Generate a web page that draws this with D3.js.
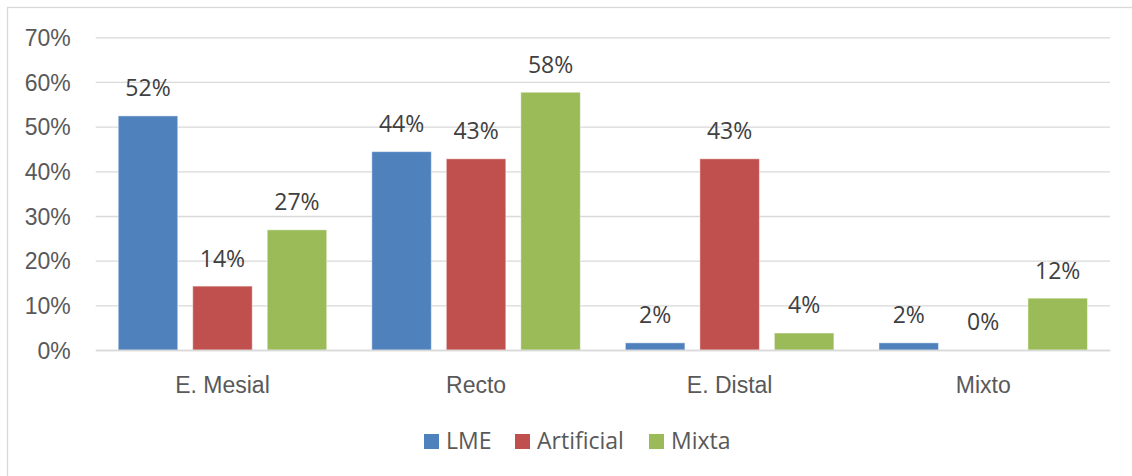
<!DOCTYPE html>
<html>
<head>
<meta charset="utf-8">
<script src="https://cdn.jsdelivr.net/npm/d3@7"></script>
<style>
  html, body { margin: 0; padding: 0; background: #fff; }
  svg { display: block; font-family: "Open Sans", "Noto Sans", sans-serif; }
</style>
</head>
<body>
<svg id="chart" width="1132" height="476"></svg>
<script>
// Categories, series and values (fractions)
const categories = ["E. Mesial", "Recto", "E. Distal", "Mixto"];
const seriesNames = ["LME", "Artificial", "Mixta"];
const seriesColors = ["#4F81BD", "#C0504D", "#9BBB59"];
const lmeValues = [0.524, 0.444, 0.016, 0.016];
const artificialValues = [0.143, 0.428, 0.428, 0.0];
const mixtaValues = [0.269, 0.577, 0.038, 0.116];
const yTicks = [0, 0.1, 0.2, 0.3, 0.4, 0.5, 0.6, 0.7];

const seriesValues = [lmeValues, artificialValues, mixtaValues];

const svg = d3.select("#chart");
const W = 1132, H = 476;
const plot = { left: 95.7, right: 1110, top: 37.3, bottom: 350 };

// Chart border (extends past the right and bottom edges)
svg.append("rect")
  .attr("x", 7.5).attr("y", 7.5)
  .attr("width", W + 20).attr("height", H + 20)
  .attr("fill", "#fff")
  .attr("stroke", "#d9d9d9")
  .attr("stroke-width", 1.3);

const x = d3.scaleBand()
  .domain(categories)
  .range([plot.left, plot.right])
  .paddingInner(0).paddingOuter(0);

const y = d3.scaleLinear()
  .domain([0, 0.7])
  .range([plot.bottom, plot.top]);

// Bars occupy a centred block within each band
const band = x.bandwidth();
const barW = band * 59.5 / 253.6;
const barGap = band * 15 / 253.6;
const groupW = barW * 3 + barGap * 2;

const x1 = d3.scaleBand()
  .domain(seriesNames)
  .range([(band - groupW) / 2, (band + groupW) / 2])
  .paddingInner(barGap / (barW + barGap))
  .paddingOuter(0);

const pct = d3.format(".0%");

// Gridlines
const yAxis = d3.axisLeft(y)
  .tickValues(yTicks)
  .tickSize(-(plot.right - plot.left))
  .tickPadding(25)
  .tickFormat(pct);

const gy = svg.append("g")
  .attr("transform", `translate(${plot.left},0)`)
  .call(yAxis);
gy.select(".domain").remove();
gy.selectAll(".tick line")
  .attr("stroke", "#d9d9d9")
  .attr("stroke-width", 1.3);
gy.selectAll(".tick text")
  .attr("fill", "#595959")
  .attr("font-size", 23)
  .attr("dy", "0.35em");

// Bars
const groups = svg.append("g")
  .selectAll("g")
  .data(categories)
  .join("g")
  .attr("transform", d => `translate(${x(d)},0)`);

groups.selectAll("rect")
  .data((c, i) => seriesNames.map((s, k) => ({ s, k, v: seriesValues[k][i] })))
  .join("rect")
  .filter(d => d.v > 0)
  .attr("x", d => x1(d.s))
  .attr("width", x1.bandwidth())
  .attr("y", d => y(d.v))
  .attr("height", d => y(0) - y(d.v))
  .attr("fill", d => seriesColors[d.k])
  .attr("stroke", "#ffffff")
  .attr("stroke-opacity", 0.45)
  .attr("stroke-width", 1);

// Category axis line
const xAxis = d3.axisBottom(x).tickSize(0).tickPadding(27);
const gx = svg.append("g")
  .attr("transform", `translate(0,${plot.bottom})`)
  .call(xAxis);
gx.select(".domain")
  .attr("stroke", "#d9d9d9")
  .attr("stroke-width", 1.3);
gx.selectAll(".tick text")
  .attr("fill", "#595959")
  .attr("font-size", 23);

// Data labels
groups.selectAll("text.lbl")
  .data((c, i) => seriesNames.map((s, k) => ({ s, k, v: seriesValues[k][i] })))
  .join("text")
  .attr("class", "lbl")
  .attr("x", d => x1(d.s) + x1.bandwidth() / 2)
  .attr("y", d => y(d.v) - 19.6)
  .attr("text-anchor", "middle")
  .attr("fill", "#404040")
  .attr("font-size", 23)
  .text(d => pct(d.v));

// Legend
const legendItems = [
  { name: seriesNames[0], color: seriesColors[0], x: 424 },
  { name: seriesNames[1], color: seriesColors[1], x: 515 },
  { name: seriesNames[2], color: seriesColors[2], x: 649 }
];
const lg = svg.append("g");
const li = lg.selectAll("g").data(legendItems).join("g")
  .attr("transform", d => `translate(${d.x},434)`);
li.append("rect")
  .attr("width", 15).attr("height", 15)
  .attr("fill", d => d.color);
li.append("text")
  .attr("x", 22).attr("y", 14.5)
  .attr("fill", "#595959")
  .attr("font-size", 23)
  .text(d => d.name);
</script>
</body>
</html>
